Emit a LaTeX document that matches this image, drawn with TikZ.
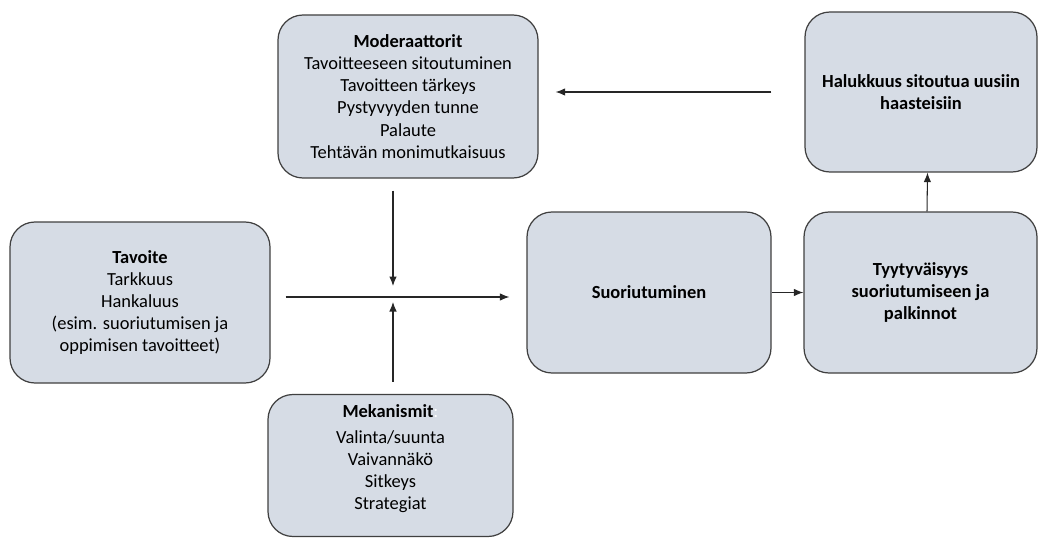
\documentclass[tikz,border=0pt]{standalone}
\usepackage{fontspec}
\setmainfont{Carlito}
\usetikzlibrary{arrows.meta}

\definecolor{boxfill}{HTML}{D6DCE5}
\definecolor{boxline}{HTML}{404040}

\begin{document}
\begin{tikzpicture}[
	box/.style={draw=boxline, line width=0.7pt, fill=boxfill, rounded corners=0.5cm,
		align=center, inner sep=2pt, font=\fontsize{10.5}{12.6}\selectfont},
	arr/.style={arrows={-{Latex[length=1.9mm, width=1.5mm]}}, line width=0.6pt, draw=black!85}
]
	\useasboundingbox (0, 0) rectangle (20.76, 10.76);

	\coordinate (X) at (7.86, 4.82);

	\node [box, minimum width=5.2cm, minimum height=3.26cm] (mod) at (8.16, 8.83)
		{\textbf{Moderaattorit}\\ Tavoitteeseen sitoutuminen\\ Tavoitteen tärkeys\\ Pystyvyyden tunne\\ Palaute\\ Tehtävän monimutkaisuus};
	\node [box, minimum width=5.2cm, minimum height=3.22cm] (tav) at (2.8, 4.71)
		{\textbf{Tavoite}\\ Tarkkuus\\ Hankaluus\\ (esim. suoriutumisen ja\\ oppimisen tavoitteet)};
	\node [box, minimum width=4.9cm, minimum height=2.84cm] (mek) at (7.81, 1.45)
		{\textbf{Mekanismit}\textcolor{white}{:}\\[2pt] Valinta/suunta\\ Vaivannäkö\\ Sitkeys\\ Strategiat\\[-3pt]~};
	\node [box, minimum width=4.88cm, minimum height=3.22cm] (suo) at (12.98, 4.91)
		{\textbf{Suoriutuminen}};
	\node [box, minimum width=4.66cm, minimum height=3.22cm] (tyy) at (18.41, 4.91)
		{\textbf{Tyytyväisyys}\\ \textbf{suoriutumiseen ja}\\ \textbf{palkinnot}};
	\node [box, minimum width=4.64cm, minimum height=3.2cm] (hal) at (18.42, 8.92)
		{\textbf{Halukkuus sitoutua uusiin}\\ \textbf{haasteisiin}};

	% goal to performance
	\draw [arr] ([xshift=0.3cm]tav.east |- X) -- ([xshift=-0.34cm]suo.west |- X);
	\draw [arr] ([yshift=-0.24cm]X |- mod.south) -- ([yshift=0.22cm]X);
	\draw [arr] ([yshift=0.24cm]X |- mek.north) -- ([yshift=-0.1cm]X);

	% feedback loop
	\draw [arr] (suo.east) -- (tyy.west);
	\draw [arr] ([xshift=0.13cm]tyy.north) -- ([xshift=0.13cm]hal.south);
	\draw [arr] ([xshift=-0.66cm]hal.west) -- ([xshift=0.34cm]mod.east |- hal.west);
\end{tikzpicture}
\end{document}
